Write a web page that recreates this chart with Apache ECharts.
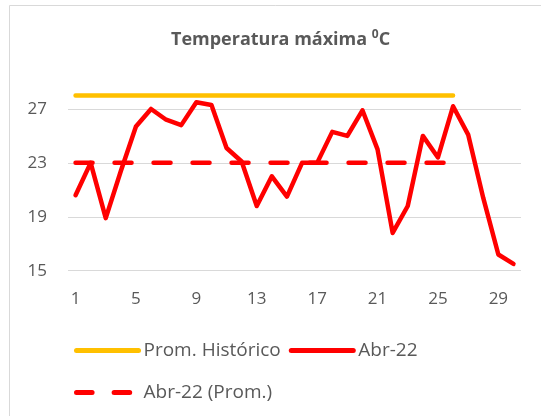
<!DOCTYPE html>
<html><head><meta charset="utf-8">
<script src="https://cdn.jsdelivr.net/npm/echarts@6/dist/echarts.min.js"></script>
<style>html,body{margin:0;padding:0;background:#fff}#c{width:541px;height:416px}</style>
</head><body><div id="c"></div>
<script>
const days = ['1','2','3','4','5','6','7','8','9','10','11','12','13','14','15','16','17','18','19','20','21','22','23','24','25','26','27','28','29','30'];
const promHistorico = [28,28,28,28,28,28,28,28,28,28,28,28,28,28,28,28,28,28,28,28,28,28,28,28,28,28,'-','-','-','-'];
const abr22 = [20.6,23.0,18.9,22.4,25.7,27.0,26.2,25.8,27.5,27.3,24.1,23.1,19.8,22.0,20.5,23.0,23.0,25.3,25.0,26.9,24.0,17.8,19.8,25.0,23.4,27.2,25.1,20.4,16.2,15.5];
const abr22Prom = [23,23,23,23,23,23,23,23,23,23,23,23,23,23,23,23,23,23,23,23,23,23,23,23,23,23,'-','-','-','-'];
const yTicks = [15,19,23,27];

const FONT = 'Open Sans';
const GREY = '#595959';
const chart = echarts.init(document.getElementById('c'), null, {renderer:'canvas'});
const legendBase = {
  left: 74, padding: 0, itemGap: 8, itemWidth: 62, itemHeight: 14,
  itemStyle: {opacity: 0},
  textStyle: {fontFamily: FONT, fontSize: 19, color: GREY}
};
chart.setOption({
  animation: false,
  backgroundColor: '#fff',
  graphic: [{type:'rect', shape:{x:9.5,y:5.5,width:600,height:500}, style:{fill:'none',stroke:'#d9d9d9',lineWidth:1}, silent:true}],
  title: {
    text: '{a|Temperatura máxima }{s|0}{a|C}',
    left: 171, top: 29, padding: 0,
    textStyle: {
      rich: {
        a: {fontFamily: FONT, fontSize: 18, fontWeight: 'bold', color: GREY, lineHeight: 22},
        s: {fontFamily: FONT, fontSize: 12, fontWeight: 'bold', color: GREY, lineHeight: 13, verticalAlign: 'top'}
      }
    }
  },
  legend: [
    Object.assign({}, legendBase, {data:['Prom. Histórico','Abr-22'], top: 341,
      lineStyle: {width: 5, cap: 'round'}}),
    Object.assign({}, legendBase, {data:['Abr-22 (Prom.)'], top: 383,
      lineStyle: {width: 5, cap: 'round', type: [15.6, 22]}})
  ],
  grid: {left: 68, right: 20, top: 82, bottom: 145.3, containLabel: false},
  xAxis: {
    type: 'category', data: days, boundaryGap: true,
    axisLine: {show:false}, axisTick: {show:false},
    axisLabel: {interval: 3, fontFamily: FONT, fontSize: 17, color: GREY, margin: 20}
  },
  yAxis: {
    type: 'value', min: yTicks[0], max: 29, interval: 4,
    axisLine: {show:false}, axisTick: {show:false},
    axisLabel: {showMaxLabel: false, fontFamily: FONT, fontSize: 17, color: GREY, margin: 21},
    splitLine: {show: true, showMaxLine: false, lineStyle: {color: '#d9d9d9', width: 1}}
  },
  series: [
    {name:'Prom. Histórico', type:'line', data: promHistorico, symbol:'none', color:'#FFC000',
     lineStyle:{color:'#FFC000', width:4.5, cap:'round'}},
    {name:'Abr-22', type:'line', data: abr22, symbol:'none', color:'#FF0000',
     lineStyle:{color:'#FF0000', width:4.5, cap:'round', join:'round'}},
    {name:'Abr-22 (Prom.)', type:'line', data: abr22Prom, symbol:'none', color:'#FF0000',
     lineStyle:{color:'#FF0000', width:4.5, type:[17,22], cap:'round'}}
  ]
});
</script></body></html>
